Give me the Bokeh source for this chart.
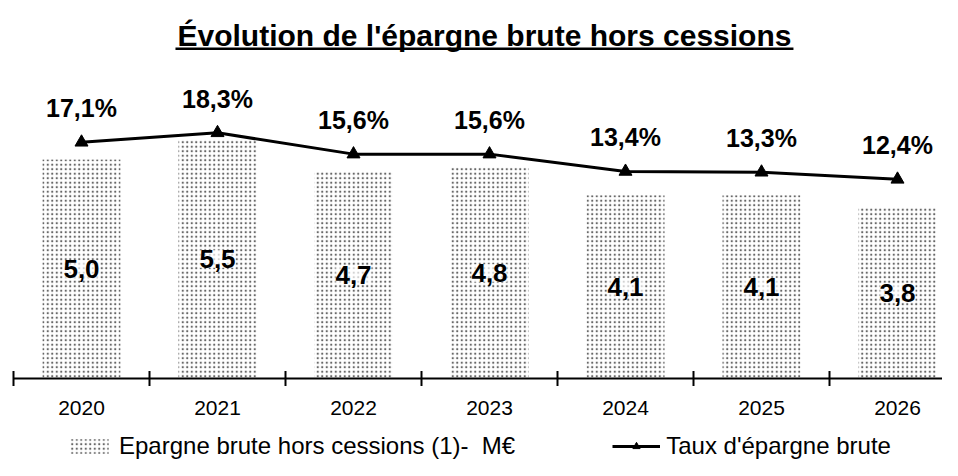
import math
from bokeh.plotting import figure
from bokeh.models import (Range1d, LabelSet, Label, BoxAnnotation,
                          ColumnDataSource, Legend, LegendItem)
from bokeh.core.properties import value
from bokeh.embed import file_html
from bokeh.resources import INLINE

# ---- data ----
years = ["2020", "2021", "2022", "2023", "2024", "2025", "2026"]
epargne = [5.0, 5.5, 4.7, 4.8, 4.1, 4.1, 3.8]          # M€
taux = [17.1, 18.3, 15.6, 15.6, 13.4, 13.3, 12.4]      # %
epargne_labels = ["5,0", "5,5", "4,7", "4,8", "4,1", "4,1", "3,8"]
taux_labels = ["17,1%", "18,3%", "15,6%", "15,6%", "13,4%", "13,3%", "12,4%"]

TITLE = "Évolution de l'épargne brute hors cessions"
LEG_BAR = "Epargne brute hors cessions (1)-  M€"
LEG_LINE = "Taux d'épargne brute"

FONT = "Liberation Sans"
BAR_FLOOR = -0.516   # value at the category axis line

n = len(years)
xs = list(range(n))
src = ColumnDataSource(dict(
    x=xs, ep=epargne, tx=taux, ep_lab=epargne_labels, tx_lab=taux_labels, yr=years,
    mid=[(v + BAR_FLOOR) / 2 for v in epargne],
    floor=[BAR_FLOOR] * n,
))
bnd = ColumnDataSource(dict(x=[i - 0.5 for i in xs], y=[BAR_FLOOR] * n))

W, H = 942, 460
p = figure(width=W, height=H, output_backend="svg", toolbar_location=None,
           x_range=Range1d(-81 / 136, (W - 81) / 136), y_range=Range1d(-2.582, 9.005),
           x_axis_location=None, y_axis_location=None,
           min_border_left=0, min_border_right=0, min_border_top=0, min_border_bottom=0)
p.extra_y_ranges = {"rate": Range1d(-23.245, 35.078)}
p.outline_line_color = None
p.grid.visible = False
p.background_fill_color = "white"
p.border_fill_color = "white"

# bars (stippled)
bars = p.vbar(x="x", top="ep", bottom="floor", width=0.574, source=src,
              fill_color="white", line_color=None,
              hatch_pattern="dot", hatch_scale=4.5, hatch_weight=1.1,
              hatch_color="black", hatch_alpha=0.6)

# category axis: line, boundary ticks, labels
p.segment(x0=[xs[0] - 0.5], x1=[xs[-1] + 0.5], y0=[BAR_FLOOR], y1=[BAR_FLOOR],
          line_color="black", line_width=2)
p.scatter(x="x", y="y", source=bnd, marker="dash", angle=math.pi / 2, size=15,
          line_color="black", line_width=2)
p.add_layout(LabelSet(x="x", y="floor", text="yr", source=src, text_align="center",
                      text_baseline="middle", y_offset=-30, text_font=value(FONT),
                      text_font_size="21px", text_color="black"))

# line with triangles
ln = p.line(x="x", y="tx", source=src, y_range_name="rate", line_color="black", line_width=3)
mk = p.scatter(x="x", y="tx", source=src, y_range_name="rate", marker="triangle",
               size=13, fill_color="black", line_color="black")

# value labels
p.add_layout(LabelSet(x="x", y="mid", text="ep_lab", source=src, text_align="center",
                      text_baseline="middle", text_font=value(FONT), text_font_style="bold",
                      text_font_size="26px", text_color="black",
                      background_fill_color="white", background_fill_alpha=0.7))
p.add_layout(LabelSet(x="x", y="tx", y_range_name="rate", text="tx_lab", source=src,
                      text_align="center", text_baseline="middle", y_offset=34,
                      text_font=value(FONT), text_font_style="bold", text_font_size="25px",
                      text_color="black"))

# title with underline
p.add_layout(Label(x=2.963, y=8.123, text=TITLE,
                   text_align="center", text_baseline="middle", text_font=FONT,
                   text_font_style="bold", text_font_size="30px", text_color="black"))
p.add_layout(BoxAnnotation(left=0.691, right=5.235, top=7.821, bottom=7.758,
                           fill_color="black", fill_alpha=1, line_color=None))

legend = Legend(items=[LegendItem(label=LEG_BAR, renderers=[bars]),
                       LegendItem(label=LEG_LINE, renderers=[ln, mk])],
                orientation="horizontal", location=(65, 0),
                glyph_width=48, glyph_height=18, label_height=20,
                label_standoff=6, spacing=97,
                padding=0, margin=0, border_line_color=None,
                label_text_font=FONT, label_text_font_size="24px",
                label_text_color="black", background_fill_alpha=0)
p.add_layout(legend)

open("out.html", "w").write(file_html(p, INLINE))
